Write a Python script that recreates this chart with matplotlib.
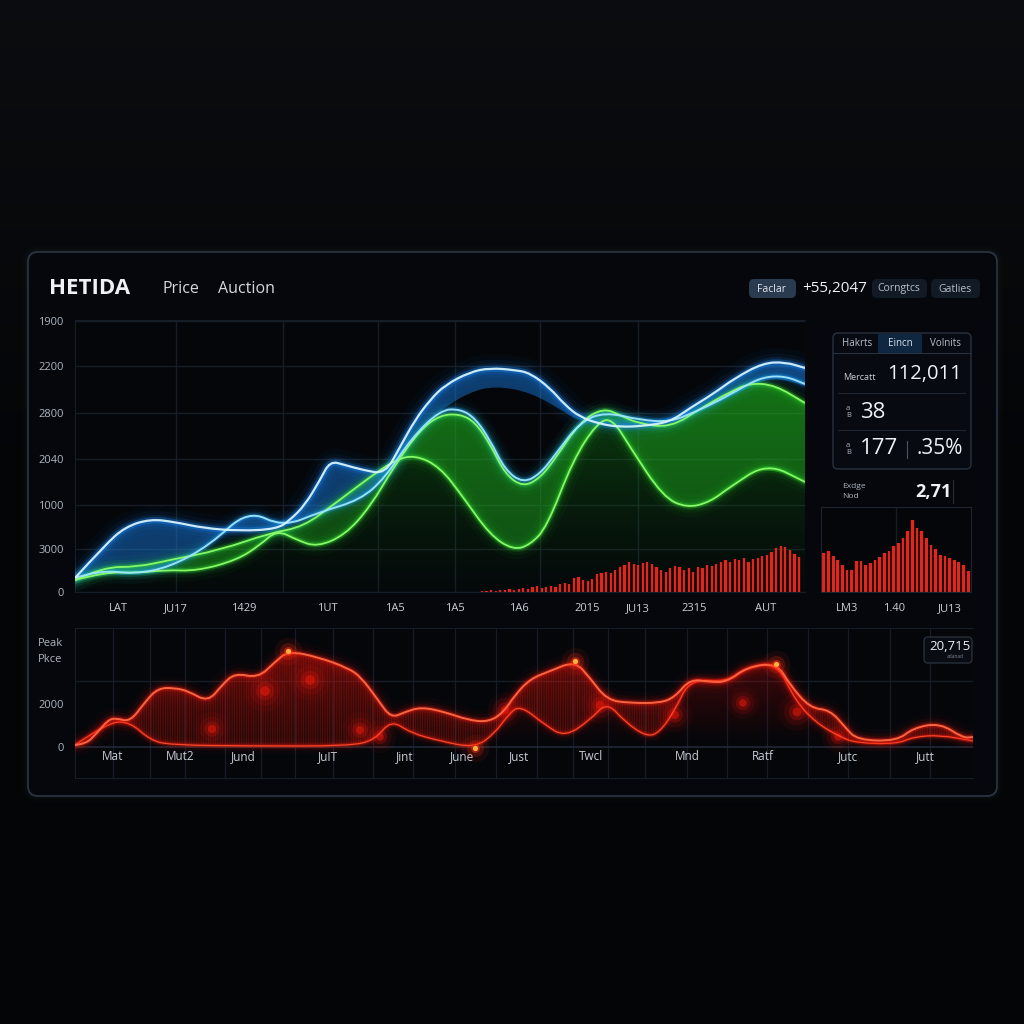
import numpy as np
import matplotlib
matplotlib.use('Agg')
import matplotlib.pyplot as plt
from matplotlib.patches import FancyBboxPatch, PathPatch
from matplotlib.path import Path

plt.rcParams['font.family'] = ['Open Sans', 'DejaVu Sans']
plt.rcParams['hatch.linewidth'] = 0.5

W = 1024.0

# ---- main chart (x, y in chart units) ----
b1_x = [0, 30, 50, 75, 100, 128, 165, 202, 215, 230, 245, 255, 270, 288, 310, 325, 340, 355, 370, 395, 415, 440, 455, 475, 490, 505, 525, 545, 568, 595, 615, 638, 660, 688, 710, 730]
b1_y = [14, 47, 65, 73, 70, 64, 61, 63, 72, 87, 112, 131, 127, 122, 118, 145, 172, 192, 207, 220, 224, 222, 219, 204, 187, 175, 168, 165, 166, 170, 184, 198, 214, 229, 230, 224]
b2_x = [0, 25, 60, 95, 135, 173, 208, 245, 285, 310, 335, 365, 385, 400, 415, 430, 448, 465, 480, 505, 530, 565, 595, 620, 645, 668, 688, 710, 730]
b2_y = [14, 22, 18, 25, 47, 82, 65, 80, 92, 114, 152, 182, 183, 174, 152, 122, 109, 118, 137, 170, 180, 172, 170, 180, 192, 205, 215, 216, 208]
b3_x = [0, 25, 60, 95, 135, 173, 208, 245, 285, 310, 335, 365, 395, 420, 455, 490, 505, 530, 565, 595, 620, 645, 668, 688, 710, 730]
b3_y = [14, 22, 18, 25, 47, 82, 65, 80, 92, 114, 152, 182, 200, 206, 200, 180, 170, 175, 170, 170, 180, 190, 202, 212, 213, 206]
g2_x = [0, 30, 62, 90, 122, 162, 185, 202, 222, 242, 270, 295, 320, 345, 365, 385, 400, 415, 430, 448, 465, 480, 505, 528, 545, 562, 595, 628, 655, 675, 700, 730]
g2_y = [12, 20, 19, 22, 21, 32, 47, 62, 52, 45, 57, 85, 127, 162, 177, 178, 170, 148, 118, 105, 114, 133, 170, 184, 177, 169, 164, 185, 200, 209, 207, 189]
g1_x = [0, 28, 62, 95, 145, 195, 228, 262, 295, 320, 340, 365, 388, 415, 438, 455, 472, 498, 522, 537, 555, 588, 612, 635, 655, 692, 730]
g1_y = [12, 25, 25, 32, 42, 59, 65, 90, 115, 132, 137, 125, 95, 57, 42, 47, 65, 132, 169, 174, 145, 95, 84, 90, 105, 129, 110]
vol_bars = [1, 1, 2, 1, 2, 2, 3, 2, 3, 4, 3, 5, 6, 4, 5, 6, 5, 8, 9, 8,
            14, 15, 12, 11, 13, 18, 19, 20, 19, 22, 25, 27, 30, 28, 27, 29, 30, 28, 25, 22,
            20, 24, 26, 25, 22, 24, 20, 25, 24, 27, 26, 28, 30, 32, 30, 33, 32, 34, 30, 33,
            34, 36, 37, 40, 44, 46, 45, 42, 38, 35]
main_yticks = [0, 43, 87, 133, 179, 226, 271]
main_ylabels = ['0', '3000', '1000', '2040', '2800', '2200', '1900']
main_xticks = [43, 101, 169, 252, 320, 380, 444, 512, 563, 619, 691]
main_xlabels = ['LAT', 'JU17', '1429', '1UT', '1A5', '1A5', '1A6', '2015', 'JU13', '2315', 'AUT']

# ---- side bar chart ----
side_bars = [39, 41, 36, 32, 27, 22, 22, 31, 31, 27, 29, 32, 35, 39, 41, 46, 49, 54, 61, 72,
             64, 61, 54, 47, 43, 37, 36, 34, 32, 30, 27, 21]
side_xlabels = ['LM3', '1.40', 'JU13']

# ---- bottom chart ----
rt_x = [0, 11, 22, 33, 41, 55, 70, 83, 100, 113, 133, 147, 160, 183, 200, 213, 243, 273, 286, 303, 316, 330, 346, 370, 393, 413, 428, 440, 455, 475, 500, 515, 532, 555, 585, 600, 615, 635, 652, 672, 702, 715, 735, 755, 770, 782, 822, 838, 865, 888, 898]
rt_y = [2, 3, 14, 27, 29, 25, 45, 59, 59, 56, 45, 62, 74, 69, 85, 96, 90, 79, 70, 47, 29, 35, 40, 35, 27, 25, 34, 52, 68, 76, 86, 69, 47, 44, 44, 50, 68, 65, 65, 80, 84, 62, 39, 37, 20, 7, 6, 19, 24, 9, 10]
rl_x = [0, 33, 55, 75, 95, 175, 275, 300, 316, 336, 365, 400, 420, 433, 445, 470, 490, 515, 532, 550, 572, 585, 600, 615, 652, 672, 702, 720, 740, 765, 782, 822, 838, 865, 898]
rl_y = [2, 25, 25, 7, 2, 1, 1, 7, 27, 14, 6, -1, 14, 32, 42, 22, 10, 27, 45, 25, 10, 15, 37, 68, 65, 80, 84, 47, 25, 10, 4, 3, 10, 12, 6]
glow_x = [190, 235, 137, 285, 305, 430, 525, 600, 668, 722, 763]
glow_y = [56, 67, 18, 17, 10, 37, 42, 32, 44, 35, 10]
glow_s = [1.0, 1.0, 0.7, 0.7, 0.6, 0.7, 0.8, 0.7, 0.6, 0.8, 0.6]
peak_x = [213, 500, 701, 400]
peak_y = [96, 86, 83, -1]
bot_yticks = [0, 43]
bot_ylabels = ['0', '2000']
bot_xticks = [38, 105, 168, 253, 330, 387, 444, 516, 612, 688, 773, 850]
bot_xlabels = ['Mat', 'Mut2', 'Jund', 'JuIT', 'Jint', 'June', 'Just', 'Twcl', 'Mnd', 'Ratf', 'Jutc', 'Jutt']

TXT = '#eef1f5'
SUB = '#aeb5bf'
GRID = '#161d28'


def rect(x0, y0, x1, y1):
    return [x0 / W, 1 - y1 / W, (x1 - x0) / W, (y1 - y0) / W]


def T(x, y, s, **kw):
    kw.setdefault('color', TXT)
    kw.setdefault('va', 'center')
    kw.setdefault('zorder', 5)
    return fig.text(x / W, 1 - y / W, s, **kw)


def box(x0, y0, x1, y1, fc, ec='none', r=5, lw=1, alpha=1.0, z=1):
    p = FancyBboxPatch((x0 / W, 1 - y1 / W), (x1 - x0) / W, (y1 - y0) / W,
                       boxstyle='round,pad=0,rounding_size=%f' % (r / W),
                       transform=fig.transFigure, fc=fc, ec=ec, lw=lw, alpha=alpha, zorder=z)
    fig.patches.append(p)
    return p


def line(x0, y0, x1, y1, color, lw=0.8):
    fig.add_artist(plt.Line2D([x0 / W, x1 / W], [1 - y0 / W, 1 - y1 / W], color=color, lw=lw, zorder=4))


def curve(x, y):
    # quadratic bezier through the read points (points act as control points)
    pts = np.column_stack([x, y]).astype(float)
    verts, codes = [pts[0]], [Path.MOVETO]
    for i in range(1, len(pts) - 1):
        verts += [pts[i], (pts[i] + pts[i + 1]) / 2]
        codes += [Path.CURVE3, Path.CURVE3]
    verts.append(pts[-1])
    codes.append(Path.LINETO)
    return verts, codes


def band(xa, ya, xb, yb):
    v1, c1 = curve(xa, ya)
    v2, c2 = curve(list(xb)[::-1], list(yb)[::-1])
    c2[0] = Path.LINETO
    return Path(v1 + v2 + [v1[0]], c1 + c2 + [Path.CLOSEPOLY])


def glow(ax, x, y, color, core, lw=1.4, scale=1.0, z=5):
    v, c = curve(x, y)
    p = Path(v, c)
    for w, a in [(16, 0.03), (10, 0.06), (6, 0.12), (3.5, 0.3)]:
        ax.add_patch(PathPatch(p, fill=False, ec=color, lw=w * scale, alpha=a,
                               capstyle='round', joinstyle='round', zorder=z))
    ax.add_patch(PathPatch(p, fill=False, ec=core, lw=lw, alpha=0.95, zorder=z + 1))


fig = plt.figure(figsize=(10.24, 10.24), dpi=100)
fig.patch.set_facecolor('#040508')

# background haze
bg = fig.add_axes([0, 0, 1, 1], zorder=-10)
grad = np.linspace(0, 1, 256)
shade = np.clip(1 - grad * 2.2, 0, 1) * 0.03
img = np.zeros((256, 1, 3))
img[:, 0, 0] = 0.016 + shade
img[:, 0, 1] = 0.02 + shade
img[:, 0, 2] = 0.03 + shade
bg.imshow(img, aspect='auto', extent=[0, 1, 0, 1], origin='upper')
bg.axis('off')

# panel
for w, a in [(8, 0.03), (4, 0.05)]:
    box(28, 252, 997, 796, 'none', ec='#4a6070', r=10, lw=w, alpha=a, z=-5)
box(28, 252, 997, 796, '#05070c', ec='#2b3744', r=10, lw=1.2, z=-4)

# header
T(49, 289, 'HETIDA', fontsize=16, fontweight='bold')
T(163, 289, 'Price', fontsize=11.5, color='#d5d9df')
T(218, 289, 'Auction', fontsize=11.5, color='#d5d9df')
box(749, 279, 796, 298, '#2a3a4f', r=5, z=-3)
T(772, 289, 'Faclar', fontsize=7.5, ha='center', color='#dfe6ee')
T(835, 289, '+55,2047', fontsize=11, ha='center')
box(872, 279, 927, 298, '#121a25', r=5, z=-3)
T(899, 289, 'Corngtcs', fontsize=7.5, ha='center', color='#b7c0ca')
box(931, 279, 980, 298, '#121a25', r=5, z=-3)
T(955, 289, 'Gatlies', fontsize=7.5, ha='center', color='#b7c0ca')

# ---- main chart ----
ax = fig.add_axes(rect(75, 320, 805, 592), zorder=2)
ax.set_facecolor('#04060a')
ax.set_xlim(0, 730)
ax.set_ylim(0, 272)
for yv in main_yticks:
    ax.axhline(yv, color=GRID, lw=1, zorder=0)
for xv in [101, 208, 303, 380, 465, 563]:
    ax.axvline(xv, color=GRID, lw=1, zorder=0)

# green body with gradient
gpatch = PathPatch(band(g2_x, g2_y, [0, 730], [0, 0]), fc='none', ec='none')
ax.add_patch(gpatch)
gimg = np.zeros((256, 1, 4))
gimg[:, 0, 0] = 0.08
gimg[:, 0, 1] = 0.55
gimg[:, 0, 2] = 0.08
gimg[:, 0, 3] = np.linspace(0.05, 0.6, 256) ** 1.3
im = ax.imshow(gimg, aspect='auto', extent=[0, 730, 0, 230], origin='lower', zorder=1)
im.set_clip_path(gpatch)
ax.add_patch(PathPatch(band(g2_x, g2_y, g1_x, g1_y), fc='#22b822', alpha=0.4, ec='none', zorder=2))

# blue ribbon
ax.add_patch(PathPatch(band(b1_x, b1_y, b3_x, b3_y), fc='#1a80e6', alpha=0.45, ec='none', zorder=3))

# volume bars
vx = np.linspace(407, 724, len(vol_bars))
ax.bar(vx, vol_bars, width=4.2, color='#ff2a1a', alpha=0.15, zorder=3)
ax.bar(vx, vol_bars, width=2.2, color='#e3261b', zorder=4)

glow(ax, g1_x, g1_y, '#2ee02e', '#8dff6a', lw=1.3)
glow(ax, g2_x, g2_y, '#2ee02e', '#8dff6a', lw=1.3)
glow(ax, b2_x, b2_y, '#1aa0ff', '#9fe6ff', lw=1.4)
glow(ax, b1_x, b1_y, '#1a8cff', '#d4f3ff', lw=1.6, scale=1.3)

ax.set_yticks(main_yticks)
ax.set_yticklabels(main_ylabels)
ax.set_xticks(main_xticks)
ax.set_xticklabels(main_xlabels)
ax.tick_params(colors=SUB, labelsize=8, length=0, pad=8)
for lab in ax.get_xticklabels():
    lab.set_color('#c9ced6')
for s in ax.spines.values():
    s.set_color(GRID)
ax.spines['right'].set_visible(False)

# ---- side card ----
box(833, 333, 971, 469, '#070a10', ec='#283240', r=5, lw=1, z=-3)
box(878, 334, 922, 353, '#0f2741', r=0, z=-2)
line(833, 353, 971, 353, '#283240')
line(838, 393, 965, 393, '#1e2632')
line(838, 430, 965, 430, '#1e2632')
line(907, 441, 907, 458, '#4a5562')
T(857, 343, 'Hakrts', fontsize=7, ha='center', color='#b9c1cb')
T(900, 343, 'Eincn', fontsize=7, ha='center', color='#d9e2ec')
T(945, 343, 'Volnits', fontsize=7, ha='center', color='#b9c1cb')
T(843, 378, 'Mercatt', fontsize=6.5, color='#c9ced6')
T(962, 374, '112,011', fontsize=14.5, ha='right')
T(846, 412, 'a\nB', fontsize=5.5, color='#aeb5bf', linespacing=1.1)
T(860, 412, '38', fontsize=16)
T(846, 449, 'a\nB', fontsize=5.5, color='#aeb5bf', linespacing=1.1)
T(860, 449, '177', fontsize=16)
T(917, 449, '.35%', fontsize=15)

# ---- side bar chart ----
T(842, 486, 'Exdge', fontsize=6, color='#aeb5bf')
T(842, 497, 'Nod', fontsize=6, color='#aeb5bf')
T(915, 492, '2,71', fontsize=13, fontweight='bold')
line(953, 480, 953, 503, '#252d38')
sx = fig.add_axes(rect(821, 507, 971, 592), zorder=2)
sx.set_facecolor('#04060a')
sx.set_xlim(-0.6, len(side_bars) - 0.4)
sx.set_ylim(0, 85)
sx.axvline(15.5, color=GRID, lw=1, zorder=0)
sx.bar(range(len(side_bars)), side_bars, width=0.95, color='#ff2a1a', alpha=0.15, zorder=1)
sx.bar(range(len(side_bars)), side_bars, width=0.6, color='#e3261b', zorder=2)
sx.set_xticks([5, 15, 27])
sx.set_xticklabels(side_xlabels)
sx.set_yticks([])
sx.tick_params(colors='#c9ced6', labelsize=8, length=0, pad=8)
for s in sx.spines.values():
    s.set_color('#1c2430')

# ---- bottom chart ----
bx = fig.add_axes(rect(75, 628, 973, 778), zorder=2)
bx.set_facecolor('#04060a')
bx.set_xlim(0, 898)
bx.set_ylim(-31, 119)
for xv in [38, 75, 110, 150, 186, 220, 258, 298, 338, 380, 421, 462, 498, 533, 570, 612, 652, 692, 733, 773, 815, 855]:
    bx.axvline(xv, color=GRID, lw=0.9, zorder=0)
bx.axhline(66, color=GRID, lw=1, zorder=0)
bx.axhline(0, color='#222a36', lw=1.2, zorder=0)

rpatch = PathPatch(band(rt_x, rt_y, [0, 898], [-2, -2]), fc='none', ec='none')
bx.add_patch(rpatch)
rimg = np.zeros((256, 1, 4))
rimg[:, 0, 0] = 0.75
rimg[:, 0, 1] = 0.05
rimg[:, 0, 2] = 0.03
rimg[:, 0, 3] = np.linspace(0.0, 0.45, 256) ** 1.2
im2 = bx.imshow(rimg, aspect='auto', extent=[0, 898, -2, 96], origin='lower', zorder=1)
im2.set_clip_path(rpatch)
rib = band(rt_x, rt_y, rl_x, rl_y)
bx.add_patch(PathPatch(rib, fc='#ff2010', alpha=0.12, ec='none', zorder=2))
bx.add_patch(PathPatch(rib, fc='none', ec='#b8160c', lw=0, hatch='|||||||', alpha=0.4, zorder=2))

for k, a in [(900, 0.05), (450, 0.1), (180, 0.2), (50, 0.45)]:
    bx.scatter(glow_x, glow_y, s=np.array(glow_s) * k, color='#ff1a0a', alpha=a, lw=0, zorder=3)

glow(bx, rl_x, rl_y, '#ff1a0a', '#ff4a2a', lw=0.9, scale=0.7, z=4)
glow(bx, rt_x, rt_y, '#ff1a0a', '#ff6a44', lw=1.4, z=6)

for k, a in [(400, 0.08), (150, 0.2), (40, 0.5)]:
    bx.scatter(peak_x, peak_y, s=k, color='#ff3010', alpha=a, lw=0, zorder=8)
bx.scatter(peak_x, peak_y, s=14, color='#ffb040', lw=0, zorder=9)

bx.set_yticks(bot_yticks)
bx.set_yticklabels(bot_ylabels)
bx.set_xticks(bot_xticks)
bx.set_xticklabels(bot_xlabels)
bx.tick_params(axis='x', colors='#c9ced6', labelsize=8.5, length=0, pad=-20)
bx.tick_params(axis='y', colors=SUB, labelsize=8, length=0, pad=8)
for s in bx.spines.values():
    s.set_color(GRID)
bx.spines['right'].set_visible(False)
T(38, 644, 'Peak', fontsize=8, color=SUB)
T(38, 659, 'Pkce', fontsize=8, color=SUB)

box(924, 637, 972, 663, '#090d13', ec='#2a3440', r=4, lw=0.9, z=5)
T(950, 647, '20,715', fontsize=9.5, ha='center', zorder=6)
T(955, 657, 'adanad', fontsize=3.5, ha='center', color='#7f8893', zorder=6)

fig.savefig('out.png', dpi=100, facecolor=fig.get_facecolor())
